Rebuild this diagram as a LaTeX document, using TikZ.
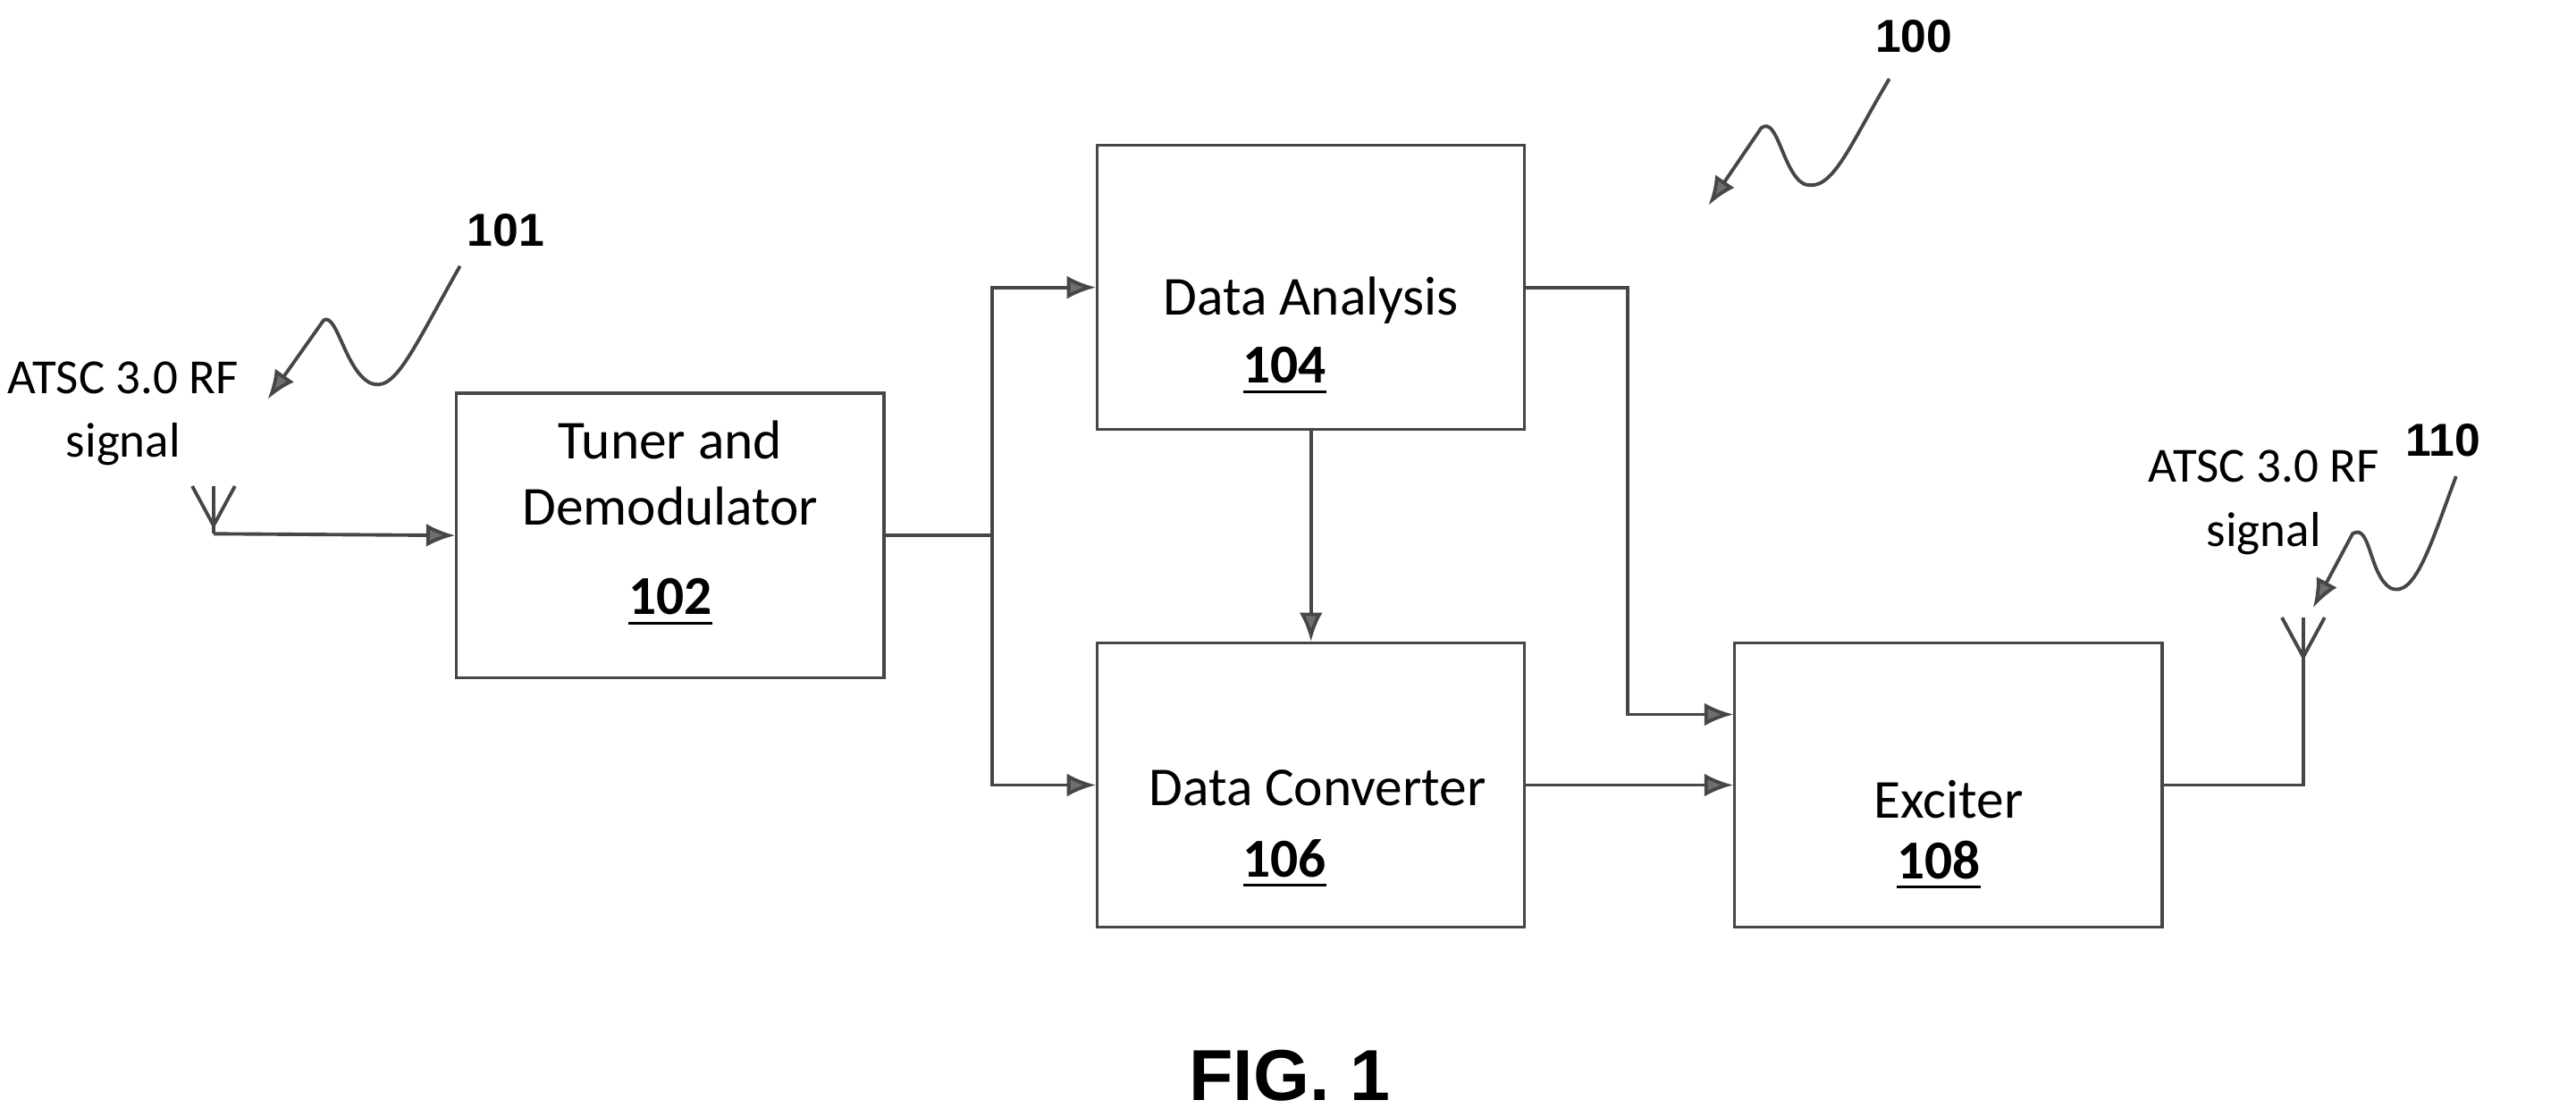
\documentclass[tikz,border=0pt]{standalone}
\usepackage{fontspec}
\setmainfont{Carlito}
\newfontfamily\labelfont{Liberation Sans}
\usetikzlibrary{arrows.meta,positioning,calc}
\definecolor{linegray}{RGB}{70,70,70}
\definecolor{tipgray}{RGB}{110,110,110}

\begin{document}
\begin{tikzpicture}[x=0.01cm, y=-0.01cm,
    every node/.style={font=\fontsize{9.5}{12}\selectfont},
    block/.style={draw=linegray, line width=0.5pt, minimum width=2.6cm, minimum height=1.73cm, inner sep=0pt},
    wire/.style={draw=linegray, line width=0.6pt},
    flow/.style={wire, -{Latex[length=5pt,width=4pt,fill=tipgray]}},
    refnum/.style={font=\labelfont\bfseries\fontsize{8}{10}\selectfont},
    antenna/.style={draw=linegray, line width=0.6pt}]
    \useasboundingbox (0,0) rectangle (1568,680);

    % Blocks
    \node[block] (tuner) at (408,326) {};
    \node at (408,268) {Tuner and};
    \node at (408,308) {Demodulator};
    \node at (408,367) {\underline{\textbf{102}}};

    \node[block] (analysis) at (798,175) {};
    \node at (798,183) {Data Analysis};
    \node at (782,226) {\underline{\textbf{104}}};

    \node[block] (converter) at (798,478) {};
    \node at (802,480) {Data Converter};
    \node at (782,526) {\underline{\textbf{106}}};

    \node[block] (exciter) at (1186,478) {};
    \node at (1186,487) {Exciter};
    \node at (1180,527) {\underline{\textbf{108}}};

    % Antennas
    \coordinate (rxant) at (130,325);
    \draw[antenna] (rxant) -- (130,296);
    \draw[antenna] (117,296) -- (130,320) -- (143,296);
    \node[align=center, font=\fontsize{8.5}{11}\selectfont] (rxlabel) at (75,252) {ATSC 3.0 RF\\signal};

    \coordinate (txant) at (1402,405);
    \draw[antenna] (txant) -- (1402,376);
    \draw[antenna] (1389,376) -- (1402,400) -- (1415,376);
    \node[align=center, font=\fontsize{8.5}{11}\selectfont] (txlabel) at (1378,306) {ATSC 3.0 RF\\signal};

    % Connectors
    \coordinate (split) at ($(tuner.east)+(65,0)$);
    \draw[flow] (rxant) -- (tuner.west);
    \draw[wire] (tuner.east) -- (split);
    \draw[flow] (split) |- (analysis.west);
    \draw[flow] (split) |- (converter.west);
    \draw[flow] (analysis.south) -- (converter.north);
    \draw[flow] (analysis.east) -- ++(62,0) |- ($(exciter.west)+(0,-43)$);
    \draw[flow] (converter.east) -- (exciter.west);
    \draw[wire] (exciter.east) -| (txant);

    % Reference numerals
    \node[refnum] (n101) at (308,140) {101};
    \draw[flow] (280,162) .. controls (250,215) and (240,240) .. (225,233)
        .. controls (210,225) and (205,190) .. (197,195) -- (163,243);
    \node[refnum] (n100) at (1165,22) {100};
    \draw[flow] (1150,48) .. controls (1125,90) and (1115,118) .. (1098,112)
        .. controls (1085,105) and (1082,70) .. (1072,78) -- (1040,125);
    \node[refnum] (n110) at (1487,268) {110};
    \draw[flow] (1495,290) .. controls (1480,330) and (1470,365) .. (1455,358)
        .. controls (1442,350) and (1443,318) .. (1432,325) -- (1408,370);

    \node[font=\labelfont\bfseries\fontsize{12.5}{15}\selectfont] (fig) at (785,655) {FIG. 1};
\end{tikzpicture}
\end{document}
